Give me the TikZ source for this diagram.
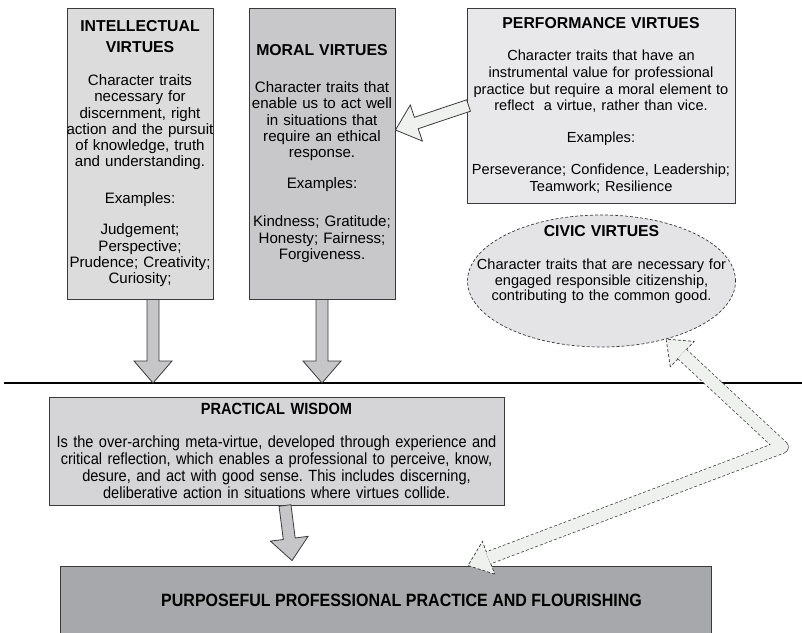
\documentclass[tikz,border=0pt]{standalone}
\usepackage{fontspec}
\setmainfont{Liberation Sans}
\newfontfamily\narrowsans[FakeStretch=0.9]{Liberation Sans}
\usetikzlibrary{positioning, calc, shapes.geometric}
\frenchspacing

\definecolor{intelgray}{HTML}{DCDCDD}
\definecolor{moralgray}{HTML}{C8C8CA}
\definecolor{perfgray}{HTML}{E8E8EA}
\definecolor{civicgray}{HTML}{E4E4E6}
\definecolor{wisdomgray}{HTML}{D5D5D7}
\definecolor{practicegray}{HTML}{A7A8AB}
\definecolor{shaftgray}{HTML}{C6C6C8}
\definecolor{paleshaft}{HTML}{EFF1EF}
\definecolor{edgegray}{HTML}{3A3A3A}

\tikzstyle{Box} = [draw=edgegray, line width=0.9pt, inner sep=0pt, align=center]
\tikzstyle{Left} = [Box, text width=152pt, inner xsep=-3pt, minimum width=146pt,
  minimum height=291pt, font=\fontsize{15.1}{16.3}\selectfont]
\tikzstyle{Block} = [draw=edgegray, line width=0.8pt, fill=shaftgray, line join=miter]
\tikzstyle{Pale} = [Block, fill=paleshaft]
\tikzstyle{Outline} = [draw=edgegray, line width=0.7pt, dash pattern=on 3pt off 2pt]
\tikzstyle{Rule} = [draw=black, line width=2.2pt]

\newcommand{\heading}[1]{{\bfseries\fontsize{15.8}{15.7}\selectfont #1}}

% fat arrow with a shaft and a head, from #2 to #3
\newcommand{\blockarrow}[3]{%
  \coordinate (hb) at ($(#3)!22pt!(#2)$);
  \draw[#1] ($(#2)!6pt!90:(#3)$) -- ($(hb)!6pt!90:(#3)$) -- ($(hb)!19pt!90:(#3)$) -- (#3)
    -- ($(hb)!19pt!-90:(#3)$) -- ($(hb)!6pt!-90:(#3)$) -- ($(#2)!6pt!-90:(#3)$) -- cycle;}
% open head only, tip at #2, pointing away from #3
\newcommand{\tiphead}[3]{%
  \coordinate (hb) at ($(#2)!22pt!(#3)$);
  \draw[#1] ($(hb)!17.5pt!90:(#2)$) -- (#2) -- ($(hb)!17.5pt!-90:(#2)$) -- cycle;}

\begin{document}
\begin{tikzpicture}[x=1pt, y=-1pt]
\useasboundingbox (0,0) rectangle (802,632);

\node[Left, fill=intelgray] (intel) at (140,153.5) {%
  \vspace*{5pt}%
  \heading{INTELLECTUAL\\VIRTUES}\\[16.7pt]
  Character traits\\ necessary for\\ discernment, right\\ action and the pursuit\\
  of knowledge, truth\\ and understanding.\\[20.7pt]
  Examples:\\[14.7pt]
  Judgement;\\ Perspective;\\ Prudence; Creativity;\\ Curiosity;};

\node[Left, fill=moralgray] (moral) at (322,153.5) {%
  \vspace*{11pt}%
  \heading{MORAL VIRTUES}\\[9.7pt]
  Character traits that\\ enable us to act well\\ in situations that\\ require an ethical\\
  response.\\[14.7pt]
  Examples:\\[21.7pt]
  Kindness; Gratitude;\\ Honesty; Fairness;\\ Forgiveness.};

\node[Box, fill=perfgray, text width=268pt, minimum width=268pt, minimum height=195pt,
  font=\fontsize{14.6}{16.6}\selectfont] (perf) at (601,105.5) {%
  \heading{PERFORMANCE VIRTUES}\\[15.4pt]
  Character traits that have an\\ instrumental value for professional\\
  practice but require a moral element to\\ reflect\ \ a virtue, rather than vice.\\[15.4pt]
  Examples:\\[15.4pt]
  Perseverance; Confidence, Leadership;\\ Teamwork; Resilience};

\node[Outline, ellipse, fill=civicgray, minimum width=268pt, minimum height=132pt,
  inner sep=0pt] (civic) at (601.5,281) {};
\node[align=center, text width=260pt, inner sep=0pt,
  font=\fontsize{14.6}{15.5}\selectfont] (civic text) at (601.5,264.5) {%
  \heading{CIVIC VIRTUES}\\[17.5pt]
  Character traits that are necessary for\\ engaged responsible citizenship,\\
  contributing to the common good.};

\coordinate (rule west) at (4,383);
\coordinate (rule east) at (802,383);
\draw[Rule] (rule west) -- (rule east);

\node[Box, fill=wisdomgray, text width=455pt, minimum width=455pt, minimum height=108pt,
  font=\narrowsans\fontsize{16.2}{17}\selectfont] (wisdom) at (276.5,451) {%
  {\bfseries PRACTICAL WISDOM}\\[16pt]
  Is the over-arching meta-virtue, developed through experience and\\
  critical reflection, which enables a professional to perceive, know,\\
  desure, and act with good sense. This includes discerning,\\
  deliberative action in situations where virtues collide.};

\node[Box, fill=practicegray, minimum width=651pt, minimum height=74pt] (practice) at (385.5,603) {};
\node[font=\narrowsans\bfseries\fontsize{17.8}{18}\selectfont] (flourish) at (401.5,600)
  {PURPOSEFUL PROFESSIONAL PRACTICE AND FLOURISHING};

% arrows down to the line and into practice
\coordinate (intel foot) at ([xshift=13pt]intel.south);
\coordinate (intel tip) at (intel foot |- rule west);
\coordinate (moral tip) at (moral.south |- rule west);
\blockarrow{Block}{intel foot}{intel tip}
\blockarrow{Block}{moral.south}{moral tip}
\coordinate (wisdom foot) at ([xshift=8.5pt]wisdom.south);
\coordinate (practice entry) at ([xshift=-93.5pt, yshift=5pt]practice.north);
\blockarrow{Block}{wisdom foot}{practice entry}

% performance feeds moral
\coordinate (perf tail) at ([xshift=2pt]perf.west);
\coordinate (moral entry) at ([yshift=23.5pt]moral.east);
\blockarrow{Pale}{perf tail}{moral entry}

% civic <-> practice, bent and dashed
\coordinate (civic tip) at (civic.-42);
\coordinate (civic bend) at (782,447);
\coordinate (practice tip) at ([xshift=82.5pt]practice.north);
\tiphead{Pale, Outline}{civic tip}{civic bend}
\tiphead{Pale, Outline}{practice tip}{civic bend}
\draw[Outline, line width=13.4pt, line join=round]
  ($(civic tip)!21.5pt!(civic bend)$) -- (civic bend) -- ($(practice tip)!21.5pt!(civic bend)$);
\draw[paleshaft, line width=12pt, line join=round]
  ($(civic tip)!21.5pt!(civic bend)$) -- (civic bend) -- ($(practice tip)!21.5pt!(civic bend)$);
\end{tikzpicture}
\end{document}
